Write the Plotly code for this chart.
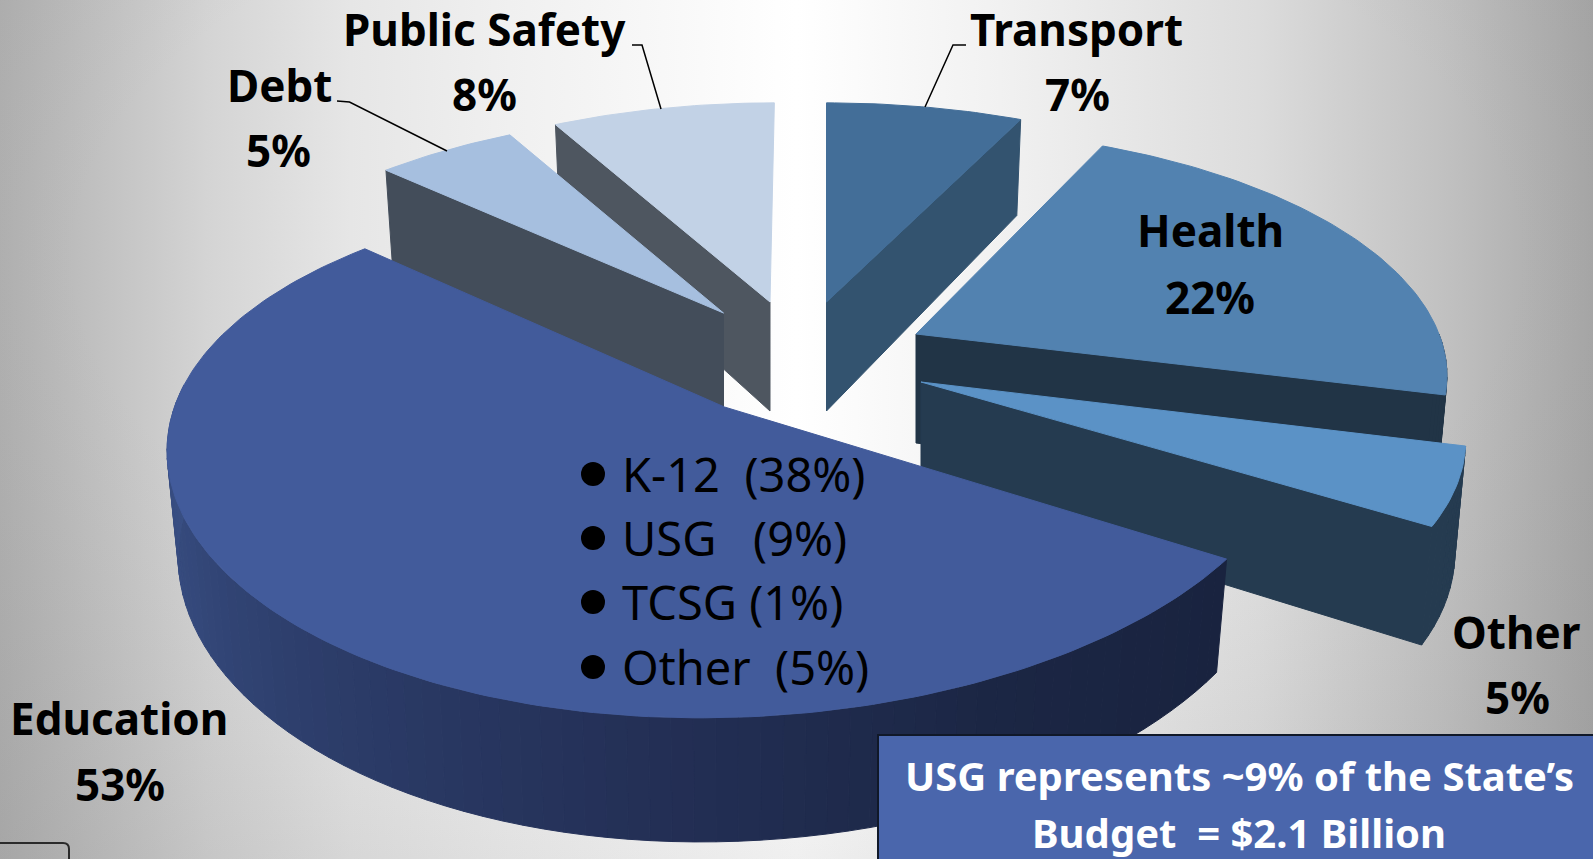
import math
from urllib.parse import quote
import plotly.graph_objects as go

# ---- data ----
categories = ["Transport", "Health", "Other", "Education", "Debt", "Public Safety"]
values = [7, 22, 5, 53, 5, 8]
percent_labels = ["7%", "22%", "5%", "53%", "5%", "8%"]
education_items = ["K-12\u00a0\u00a0(38%)", "USG\u00a0\u00a0\u00a0(9%)", "TCSG\u00a0(1%)", "Other\u00a0\u00a0(5%)"]
note_lines = ["USG represents ~9% of the State\u2019s", "Budget\u00a0\u00a0= $2.1 Billion"]

# ---- styling / layout constants ----
W, H = 1593, 859
SHRINK = 0.98     # lower rim converges slightly
style = {
    #                 tip x, tip y,  A,   B,   skew, bow, twist, persp, depth, top,      cut face
    "Transport":     (826.5, 302, 518, 229, 0,   0, 0,  0.15, 109, "#436e98", "#33536f"),
    "Health":        (916,   334, 523, 236, -12, 0, 0,  0.15, 109, "#5282b0", "#213446"),
    "Other":         (921,   382, 531, 248, -40, 0, 0,  0.15, 109, "#5b92c6", "#253b50"),
    "Education":     (724.5, 407, 559, 258, 20,  9, 25, 0.17, 103, "#425b9b", "#19233f"),
    "Debt":          (723.5, 313, 520, 230, 10,  0, 0,  0.15, 109, "#a6bfdf", "#434d5a"),
    "Public Safety": (770,   302, 513, 229, 5,   0, 0,  0.15, 109, "#c2d2e6", "#4e5660"),
}
draw_order = ["Public Safety", "Transport", "Debt", "Health", "Other", "Education"]
cut_side = {"Public Safety": "start", "Transport": "end", "Debt": "start",
            "Health": "end", "Other": "end", "Education": None}
label_pos = {
    "Transport": (1076, 29, 1077, 94), "Health": (1210, 230, 1210, 297),
    "Other": (1516, 632, 1517, 697), "Education": (119, 718, 120, 784),
    "Debt": (279, 85, 278, 150), "Public Safety": (484, 29, 484, 94),
}
FONT = "Noto Sans"

# slice angles from the values (clockwise from the top)
angles = {}
acc = 0.0
total = sum(values)
for c, v in zip(categories, values):
    angles[c] = (acc / total * 360, (acc + v) / total * 360)
    acc += v


def top_pt(cat, deg, r=1.0):
    tx, ty, A, B, S, E, F, K, *_ = style[cat]
    t = math.radians(deg)
    w = 1 + K * r * math.cos(t)
    s, c = math.sin(t), math.cos(t)
    return tx + r * (A * s + S * c + E * s * s + F * s * c) / w, ty - B * r * c / w


def low_pt(cat, deg, r=1.0):
    tx = style[cat][0]
    K = style[cat][7]
    depth = style[cat][8]
    x, y = top_pt(cat, deg, r)
    w = 1 + K * r * math.cos(math.radians(deg))
    return tx + (x - tx) * SHRINK, y + depth / w


def poly(fig, pts, color):
    xs = [p[0] for p in pts] + [pts[0][0]]
    ys = [p[1] for p in pts] + [pts[0][1]]
    fig.add_trace(go.Scatter(x=xs, y=ys, mode="lines", fill="toself", fillcolor=color,
                             line=dict(color=color, width=1), hoverinfo="skip", showlegend=False))


def lerp_hex(stops, f):
    f = max(0, min(1, f)) * (len(stops) - 1)
    i = min(int(f), len(stops) - 2)
    u = f - i
    a = [int(stops[i][j:j + 2], 16) for j in (1, 3, 5)]
    b = [int(stops[i + 1][j:j + 2], 16) for j in (1, 3, 5)]
    return "#%02x%02x%02x" % tuple(round(a[k] + (b[k] - a[k]) * u) for k in range(3))


edu_wall = ["#3b5186", "#34487a", "#2b3b67", "#232f55", "#1b2644", "#19233f"]

fig = go.Figure()
for cat in draw_order:
    a0, a1 = angles[cat]
    top_c, cut_c = style[cat][9], style[cat][10]
    side = cut_side[cat]
    if side:
        d = a0 if side == "start" else a1
        poly(fig, [top_pt(cat, d, 0), top_pt(cat, d), low_pt(cat, d), low_pt(cat, d, 0)], cut_c)
    # outer rim, only the part facing the viewer
    lo, hi = max(a0, 90), min(a1, 275)
    if hi > lo:
        n = max(2, int((hi - lo) / 2))
        for i in range(n):
            d0 = lo + (hi - lo) * i / n
            d1 = lo + (hi - lo) * (i + 1) / n
            col = lerp_hex(edu_wall, (hi - (d0 + d1) / 2) / (hi - lo)) if cat == "Education" else cut_c
            poly(fig, [top_pt(cat, d0), top_pt(cat, d1), low_pt(cat, d1), low_pt(cat, d0)], col)
    n = max(4, int(a1 - a0))
    arc = [top_pt(cat, a0 + (a1 - a0) * i / n) for i in range(n + 1)]
    poly(fig, [top_pt(cat, a0, 0)] + arc, top_c)

# leader lines
leaders = [
    ([632, 642, 661], [45, 45, 109]),
    ([337, 349.5, 447], [101, 102, 151]),
    ([966, 953, 925], [45, 45, 107]),
]
for lx, ly in leaders:
    fig.add_trace(go.Scatter(x=lx, y=ly, mode="lines", line=dict(color="#000000", width=1.5),
                             hoverinfo="skip", showlegend=False))

# bullets of the education list
list_y = [474, 538, 602, 667]
fig.add_trace(go.Scatter(x=[593] * 4, y=list_y, mode="markers",
                         marker=dict(color="#000000", size=24), hoverinfo="skip", showlegend=False))

ann = []
for cat, pct in zip(categories, percent_labels):
    x1, y1, x2, y2 = label_pos[cat]
    ann.append(dict(x=x1, y=y1, text=f"<b>{cat}</b>", showarrow=False, xanchor="center", yanchor="middle",
                    font=dict(family=FONT, size=44, color="#000000")))
    ann.append(dict(x=x2, y=y2, text=f"<b>{pct}</b>", showarrow=False, xanchor="center", yanchor="middle",
                    font=dict(family=FONT, size=44, color="#000000")))
for txt, y in zip(education_items, list_y):
    ann.append(dict(x=620, y=y, text=txt, showarrow=False, xanchor="left", yanchor="middle",
                    font=dict(family=FONT, size=47, color="#000000")))
for txt, y in zip(note_lines, [775, 832]):
    ann.append(dict(x=1239, y=y, text=f"<b>{txt}</b>", showarrow=False, xanchor="center", yanchor="middle",
                    font=dict(family=FONT, size=40, color="#ffffff")))

svg = f'''<svg xmlns="http://www.w3.org/2000/svg" width="{W}" height="{H}">
<defs>
<linearGradient id="h" x1="0" x2="1" y1="0" y2="0">
<stop offset="0" stop-color="#b0b0b0"/><stop offset="0.03" stop-color="#b8b8b8"/>
<stop offset="0.13" stop-color="#d4d4d4"/><stop offset="0.22" stop-color="#e6e6e6"/>
<stop offset="0.32" stop-color="#f0f0f0"/><stop offset="0.5" stop-color="#ffffff"/>
<stop offset="0.62" stop-color="#f2f2f2"/><stop offset="0.79" stop-color="#dcdcdc"/>
<stop offset="0.91" stop-color="#c0c0c0"/><stop offset="1" stop-color="#a6a6a6"/>
</linearGradient>
<radialGradient id="r" cx="0.5" cy="0.3" r="0.9">
<stop offset="0.5" stop-color="#808080" stop-opacity="0"/>
<stop offset="1" stop-color="#808080" stop-opacity="0.22"/>
</radialGradient>
</defs>
<rect width="{W}" height="{H}" fill="url(#h)"/><rect width="{W}" height="{H}" fill="url(#r)"/>
</svg>'''

fig.update_layout(
    width=W, height=H, margin=dict(l=0, r=0, t=0, b=0),
    paper_bgcolor="#ffffff", plot_bgcolor="rgba(0,0,0,0)", showlegend=False,
    xaxis=dict(range=[0, W], visible=False, fixedrange=True),
    yaxis=dict(range=[H, 0], visible=False, fixedrange=True),
    images=[dict(source="data:image/svg+xml;charset=utf-8," + quote(svg), xref="x", yref="y",
                 x=0, y=0, sizex=W, sizey=H, sizing="stretch", layer="below",
                 xanchor="left", yanchor="top")],
    annotations=ann,
    shapes=[
        dict(type="rect", x0=878, x1=W + 4, y0=735, y1=H + 4, fillcolor="#4a66ac",
             line=dict(color="#101828", width=2), layer="above"),
        dict(type="path", path=f"M -3 843 L 63 843 Q 69 843 69 849 L 69 {H+3}",
             line=dict(color="#2a2a2a", width=2), layer="above"),
    ],
)
fig.write_html("out.html", config={"displayModeBar": False},
               post_script="document.body.style.margin='0';document.body.style.overflow='hidden';")
